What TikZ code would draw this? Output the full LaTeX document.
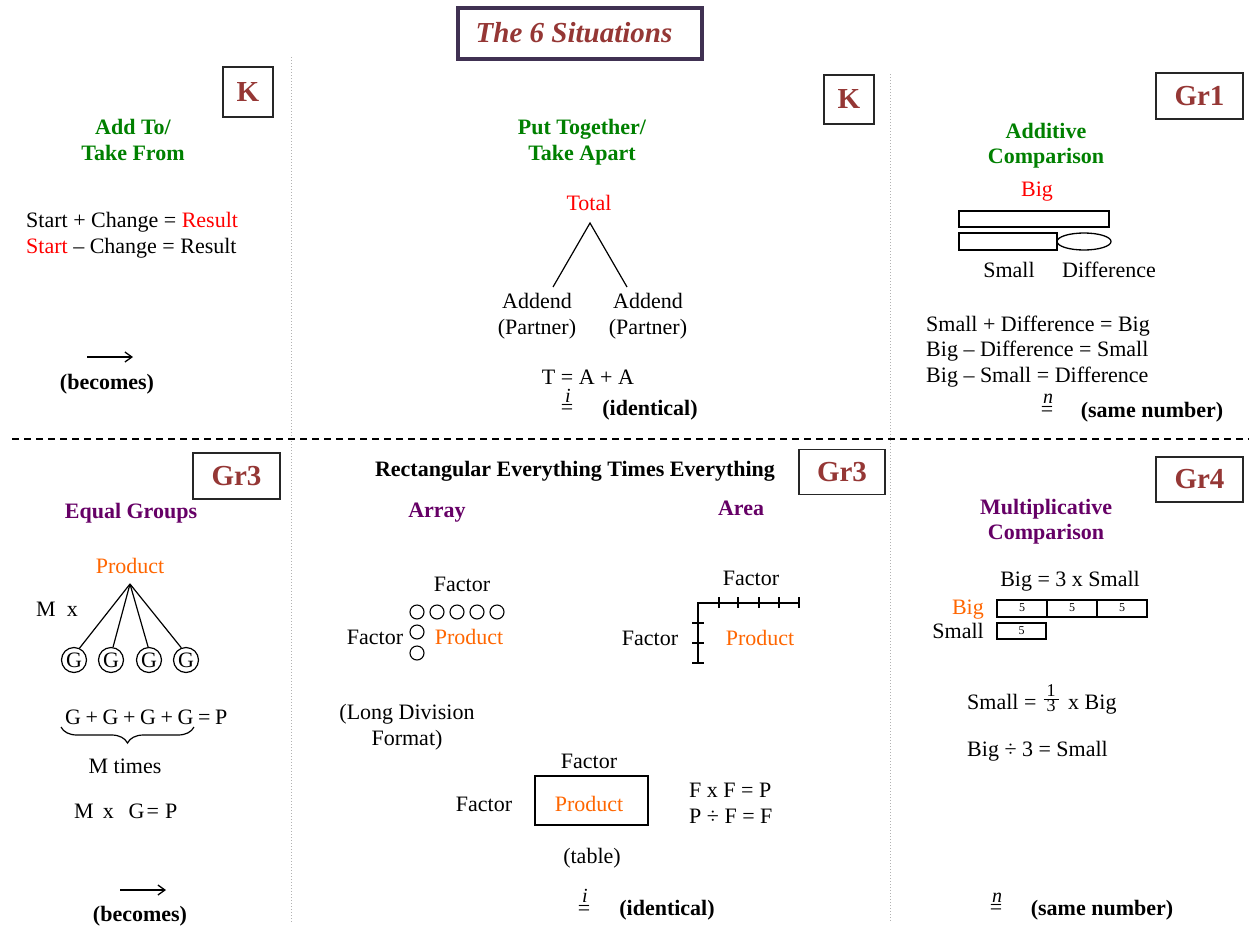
\documentclass[tikz,border=0pt]{standalone}
\usepackage{fontspec}
\setmainfont{Liberation Serif}
\usetikzlibrary{arrows.meta,decorations.pathreplacing}
\definecolor{greenT}{RGB}{0,128,0}
\definecolor{purpleT}{RGB}{102,0,102}
\definecolor{orangeT}{RGB}{255,102,0}
\definecolor{gradeT}{RGB}{149,55,53}
\definecolor{titleB}{RGB}{64,49,82}
\definecolor{redT}{RGB}{255,0,0}
\begin{document}
\begin{tikzpicture}[x=1pt,y=-1pt,
  txt/.style={font=\fontsize{22}{26}\selectfont, inner sep=0pt, anchor=base},
  bt/.style={txt, font=\fontsize{22}{26}\selectfont\bfseries},
  lt/.style={txt, anchor=base west},
  mark letter/.style={font=\fontsize{20}{20}\selectfont\itshape, inner sep=0pt, anchor=base},
  grade/.style={draw=black!85, line width=1.5pt, text=gradeT, font=\fontsize{29}{29}\selectfont\bfseries, inner sep=0pt},
  divider/.style={draw=black!30, line width=1pt, dotted},
  sepline/.style={draw=black, line width=1.3pt, dash pattern=on 7pt off 5pt},
  leg/.style={draw=black, line width=1.2pt},
  becomes/.style={draw=black, line width=1.3pt, -{Straight Barb[length=7pt,width=10pt]}},
  gcirc/.style={circle, draw, line width=1.2pt, minimum size=25pt, inner sep=0pt, font=\fontsize{22}{26}\selectfont},
  dot/.style={circle, draw, line width=1.1pt, minimum size=14pt, inner sep=0pt},
  thinbox/.style={draw=black, line width=1.3pt},
  five/.style={font=\fontsize{12}{12}\selectfont, inner sep=0pt, anchor=base},
]
\fill[white] (0,0) rectangle (1249,926);
\useasboundingbox (0,0) rectangle (1249,926);

% title
\node[draw=titleB, line width=4pt, minimum width=244pt, minimum height=51pt, inner sep=0pt] (titlebox) at (580,33.5) {};
\node[text=gradeT, font=\fontsize{29}{29}\selectfont\bfseries\itshape, inner sep=0pt] (title) at (574,33) {The 6 Situations};

% dividers
\coordinate (v1t) at (291,57); \coordinate (v1b) at (291,922);
\coordinate (v2t) at (890,74); \coordinate (v2b) at (890,922);
\coordinate (hl) at (12,439); \coordinate (hr) at (1249,439);
\draw[divider] (v1t) -- (v1b);
\draw[divider] (v2t) -- (v2b);
\draw[sepline] (hl) -- (hr);

% grade boxes
\node[grade, minimum width=50pt, minimum height=50pt] (gK1) at (248,92) {K};
\node[grade, minimum width=50pt, minimum height=49pt] (gK2) at (849,99.5) {K};
\node[grade, minimum width=87pt, minimum height=46pt] (gG1) at (1199.5,96) {Gr1};
\node[grade, minimum width=87pt, minimum height=46pt] (gG3a) at (236.5,476) {Gr3};
\node[grade, minimum width=86pt, minimum height=45pt] (gG3b) at (842,472) {Gr3};
\node[grade, minimum width=87pt, minimum height=45pt] (gG4) at (1199.5,479.5) {Gr4};

% panel 1
\node[bt, text=greenT] (p1a) at (133,134) {Add To/};
\node[bt, text=greenT] (p1b) at (133,160) {Take From};
\node[lt] (p1e1) at (26,227) {Start + Change = \textcolor{redT}{Result}};
\node[lt] (p1e2) at (26,253) {\textcolor{redT}{Start} – Change = Result};
\coordinate (a1s) at (87,357); \coordinate (a1e) at (133,357);
\draw[becomes] (a1s) -- (a1e);
\node[bt] (p1bec) at (107,389) {(becomes)};

% panel 2
\node[bt, text=greenT] (p2a) at (582,134) {Put Together/};
\node[bt, text=greenT] (p2b) at (582,160) {Take Apart};
\node[txt, text=redT] (total) at (589,210) {Total};
\coordinate (tapex) at (590,223); \coordinate (legL) at (553,287); \coordinate (legR) at (627,287);
\draw[leg] (legL) -- (tapex) -- (legR);
\node[txt] (ad1) at (537,308) {Addend};
\node[txt] (pa1) at (537,334) {(Partner)};
\node[txt] (ad2) at (648,308) {Addend};
\node[txt] (pa2) at (648,334) {(Partner)};
\node[txt] (taa) at (588,384) {T = A + A};
\node[txt] (eq1) at (567,414) {=};
\node[mark letter] (i1) at (568,402) {i};
\node[bt] (ident1) at (650,415) {(identical)};

% panel 3
\node[bt, text=greenT] (p3a) at (1046,138) {Additive};
\node[bt, text=greenT] (p3b) at (1046,163) {Comparison};
\node[txt, text=redT] (big1) at (1037,196) {Big};
\draw[thinbox] (959,211) rectangle (1109,227);
\draw[thinbox] (959,233) rectangle (1057,250);
\draw[thinbox] (1084,241.5) ellipse [x radius=27, y radius=8.5];
\node[txt] (sm1) at (1009,277) {Small};
\node[txt] (dif1) at (1109,277) {Difference};
\node[lt] (e31) at (926,331) {Small + Difference = Big};
\node[lt] (e32) at (926,356) {Big – Difference = Small};
\node[lt] (e33) at (926,382) {Big – Small = Difference};
\node[txt] (eq2) at (1047,416) {=};
\node[mark letter] (n1) at (1048,403) {n};
\node[bt] (same1) at (1152,417) {(same number)};

% panel 4
\node[bt, text=purpleT] (eqg) at (131,518) {Equal Groups};
\node[txt, text=orangeT] (prod1) at (130,573) {Product};
\coordinate (papex) at (130,584);
\node[gcirc] (g1) at (74,660) {G};
\node[gcirc] (g2) at (111,660) {G};
\node[gcirc] (g3) at (149,660) {G};
\node[gcirc] (g4) at (186,660) {G};
\draw[leg] (papex) -- (g1.65);
\draw[leg] (papex) -- (g2.81);
\draw[leg] (papex) -- (g3.94);
\draw[leg] (papex) -- (g4.111);
\node[lt] (mx) at (36,616) {M\ \ x};
\node[lt] (gsum) at (65,724) {\spaceskip=4.6pt G + G + G + G = P};
\coordinate (brL) at (61,727); \coordinate (brR) at (194,727);
\draw[leg, decorate, decoration={brace, mirror, amplitude=16pt}] (brL) -- (brR);
\node[txt] (mtimes) at (125,773) {M times};
\node[lt] (mxg) at (74,818) {M\hspace{9pt}x\hspace{15pt}G\hspace{2pt}=\hspace{6pt}P};
\coordinate (a2s) at (120,890); \coordinate (a2e) at (166,890);
\draw[becomes] (a2s) -- (a2e);
\node[bt] (p4bec) at (140,921) {(becomes)};

% panel 5
\node[bt] (rectev) at (575,476) {Rectangular Everything Times Everything};
\node[bt, text=purpleT] (array) at (437,517) {Array};
\node[bt, text=purpleT] (area) at (741,515) {Area};
\node[txt] (af1) at (462,591) {Factor};
\foreach \i/\x in {1/417,2/437,3/457,4/477,5/497} \node[dot] (ar\i) at (\x,612) {};
\node[dot] (ac1) at (417,632) {};
\node[dot] (ac2) at (417,653) {};
\node[txt] (af2) at (375,644) {Factor};
\node[txt, text=orangeT] (aprod) at (469,644) {Product};
\node[txt] (rf1) at (751,585) {Factor};
\draw[leg] (799,603) -- (698,603) -- (698,664);
\foreach \x in {719,738,759,779,799} \draw[leg] (\x,597) -- (\x,608);
\foreach \y in {623,643,663} \draw[leg] (692,\y) -- (704,\y);
\node[txt] (rf2) at (650,645) {Factor};
\node[txt, text=orangeT] (rprod) at (760,645) {Product};
\node[txt] (ld1) at (407,719) {(Long Division};
\node[txt] (ld2) at (407,745) {Format)};
\node[txt] (tf1) at (589,768) {Factor};
\node[thinbox, minimum width=113pt, minimum height=49pt, inner sep=0pt] (tbox) at (591.5,800.5) {};
\node[txt, text=orangeT] (tprod) at (589,811) {Product};
\node[txt] (tf2) at (484,811) {Factor};
\node[lt] (fxf) at (689,797) {F x F = P};
\node[lt] (pff) at (689,823) {P ÷ F = F};
\node[txt] (table) at (592,863) {(table)};
\node[txt] (eq3) at (584,915) {=};
\node[mark letter] (i2) at (585,902) {i};
\node[bt] (ident2) at (667,915) {(identical)};

% panel 6
\node[bt, text=purpleT] (mc1) at (1046,514) {Multiplicative};
\node[bt, text=purpleT] (mc2) at (1046,539) {Comparison};
\node[txt] (b3s) at (1070,586) {Big = 3 x Small};
\node[txt, anchor=base east, text=orangeT] (bigl) at (984,614) {Big};
\node[txt, anchor=base east] (smalll) at (984,638) {Small};
\draw[thinbox] (997,600) rectangle (1147,617);
\draw[thinbox] (1047,600) -- (1047,617);
\draw[thinbox] (1097,600) -- (1097,617);
\draw[thinbox] (997,623) rectangle (1046,639);
\node[five] (f1) at (1022,611) {5};
\node[five] (f2) at (1072,611) {5};
\node[five] (f3) at (1122,611) {5};
\node[five] (f4) at (1021.5,634) {5};
\node[lt] (smeq) at (967,709) {Small =};
\node[inner sep=0pt, font=\fontsize{18}{18}\selectfont] (frac) at (1051,698) {$\frac{\mbox{\,1\,}}{\mbox{\,3\,}}$};
\node[lt] (xbig) at (1068,709) {x Big};
\node[lt] (bdiv) at (967,756) {Big ÷ 3 = Small};
\node[txt] (eq4) at (996,914) {=};
\node[mark letter] (n2) at (997,902) {n};
\node[bt] (same2) at (1102,915) {(same number)};
\end{tikzpicture}
\end{document}
